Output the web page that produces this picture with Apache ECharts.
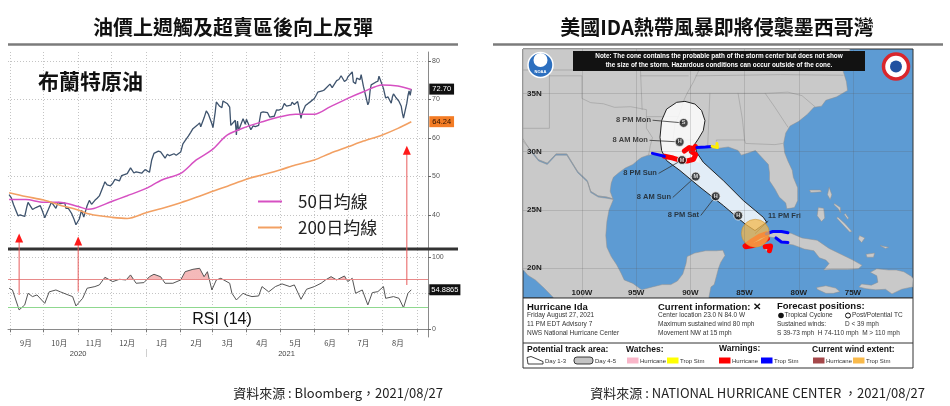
<!DOCTYPE html>
<html>
<head>
<meta charset="utf-8">
<script src="https://cdn.jsdelivr.net/npm/echarts@6.0.0/dist/echarts.min.js"></script>
<style>
html, body { margin: 0; padding: 0; background: #fff; }
#main { width: 950px; height: 406px; }
</style>
</head>
<body>
<div id="main"></div>
<script>
// ---- left panel: Brent crude ----
const priceDates = [
  '2020-08-31','2020-09-02','2020-09-04','2020-09-08','2020-09-10','2020-09-14','2020-09-16','2020-09-17','2020-09-21','2020-09-24','2020-09-28','2020-09-30',
  '2020-10-02','2020-10-05','2020-10-08','2020-10-12','2020-10-14','2020-10-16','2020-10-20','2020-10-21','2020-10-23','2020-10-26','2020-10-28','2020-10-30',
  '2020-11-02','2020-11-04','2020-11-06','2020-11-09','2020-11-11','2020-11-13','2020-11-16','2020-11-18','2020-11-20','2020-11-24','2020-11-25','2020-11-27','2020-11-30',
  '2020-12-02','2020-12-04','2020-12-08','2020-12-10','2020-12-11','2020-12-15','2020-12-18','2020-12-21','2020-12-23','2020-12-28','2020-12-31',
  '2021-01-04','2021-01-06','2021-01-08','2021-01-12','2021-01-14','2021-01-18','2021-01-20','2021-01-22','2021-01-26','2021-01-28',
  '2021-02-01','2021-02-03','2021-02-05','2021-02-08','2021-02-10','2021-02-12','2021-02-16','2021-02-18','2021-02-19','2021-02-22','2021-02-24','2021-02-26',
  '2021-03-01','2021-03-02','2021-03-04','2021-03-05','2021-03-08','2021-03-10','2021-03-11','2021-03-15','2021-03-17','2021-03-18','2021-03-22','2021-03-23','2021-03-24','2021-03-25','2021-03-29','2021-03-31',
  '2021-04-01','2021-04-05','2021-04-07','2021-04-09','2021-04-12','2021-04-14','2021-04-16','2021-04-20','2021-04-22','2021-04-26','2021-04-28','2021-04-30',
  '2021-05-03','2021-05-05','2021-05-07','2021-05-11','2021-05-12','2021-05-14','2021-05-17','2021-05-19','2021-05-20','2021-05-21','2021-05-24','2021-05-26','2021-05-28',
  '2021-06-01','2021-06-03','2021-06-04','2021-06-08','2021-06-10','2021-06-11','2021-06-15','2021-06-17','2021-06-18','2021-06-21','2021-06-23','2021-06-25','2021-06-28','2021-06-30',
  '2021-07-01','2021-07-02','2021-07-05','2021-07-06','2021-07-08','2021-07-09','2021-07-12','2021-07-13','2021-07-15','2021-07-16','2021-07-19','2021-07-20','2021-07-21','2021-07-22','2021-07-26','2021-07-28','2021-07-29','2021-07-30',
  '2021-08-02','2021-08-03','2021-08-04','2021-08-06','2021-08-09','2021-08-10','2021-08-11','2021-08-13','2021-08-16','2021-08-17','2021-08-18','2021-08-19','2021-08-20','2021-08-23','2021-08-24','2021-08-25','2021-08-26','2021-08-27'
];
const priceClose = [
  45.28, 44.43, 42.66, 39.78, 40.06, 39.61, 42.22, 43.30, 41.44, 41.94, 42.43, 40.95,
  39.27, 41.29, 43.34, 41.72, 43.32, 42.93, 43.16, 41.73, 41.77, 40.46, 39.12, 37.46,
  38.97, 41.23, 39.45, 42.40, 43.80, 42.78, 43.82, 44.34, 44.96, 47.86, 48.61, 47.80, 47.59,
  48.25, 49.25, 48.84, 50.25, 49.97, 50.76, 52.26, 50.91, 51.20, 50.86, 51.80,
  51.09, 54.30, 55.99, 56.58, 56.42, 54.75, 55.79, 55.41, 55.91, 55.53,
  56.35, 58.46, 59.34, 60.56, 61.47, 62.43, 63.35, 63.93, 62.91, 65.24, 67.04, 66.13,
  63.69, 62.70, 66.74, 69.36, 68.24, 67.90, 69.63, 68.88, 68.00, 63.28, 64.62, 60.79, 64.41, 61.95, 64.98, 63.54,
  64.86, 62.15, 63.16, 62.95, 63.28, 66.58, 66.77, 66.57, 65.40, 65.65, 67.27, 67.25,
  67.56, 68.96, 68.28, 68.55, 69.32, 68.71, 69.46, 66.66, 65.11, 66.44, 68.46, 68.87, 69.32,
  70.25, 71.31, 71.89, 72.22, 72.52, 72.69, 73.99, 73.08, 73.51, 74.90, 75.19, 76.18, 74.68, 75.13,
  75.84, 76.17, 77.16, 74.53, 74.12, 75.55, 75.16, 76.49, 73.47, 73.59, 68.62, 69.35, 72.23, 73.79, 74.50, 74.74, 76.05, 76.33,
  72.89, 72.41, 70.38, 70.70, 69.04, 70.63, 71.44, 70.59, 69.51, 69.03, 68.23, 66.45, 65.18, 69.05, 70.98, 72.25, 71.07, 72.70
];
const maDates = ['2020-08-31','2020-09-15','2020-10-01','2020-10-15','2020-11-01','2020-11-10','2020-11-15','2020-12-01','2020-12-15',
  '2021-01-01','2021-01-15','2021-02-01','2021-02-15','2021-03-01','2021-03-15','2021-04-01','2021-04-15','2021-05-01','2021-05-15',
  '2021-06-01','2021-06-15','2021-07-01','2021-07-15','2021-08-01','2021-08-15','2021-08-27'];
const ma50 = [44.0, 44.0, 43.3, 43.3, 42.2, 41.5, 41.7, 43.5, 45.0, 46.9, 49.1, 50.8, 54.3, 56.9, 60.8, 62.9, 64.2, 65.5, 66.2,
  66.2, 68.1, 70.3, 72.0, 73.8, 73.5, 72.6];
const ma200 = [45.8, 44.8, 43.9, 42.6, 41.3, 40.3, 40.0, 39.4, 39.1, 40.6, 41.7, 43.2, 44.6, 46.1, 47.5, 49.3, 50.4, 51.7, 53.0,
  54.3, 56.0, 57.7, 59.2, 60.8, 62.5, 64.24];
const rsiDates = ['2020-08-31','2020-09-03','2020-09-08','2020-09-09','2020-09-14','2020-09-17','2020-09-21','2020-09-25','2020-10-02','2020-10-06',
  '2020-10-12','2020-10-16','2020-10-23','2020-10-27','2020-10-30','2020-11-05','2020-11-09','2020-11-16','2020-11-20','2020-11-25',
  '2020-12-02','2020-12-08','2020-12-14','2020-12-18','2020-12-23','2020-12-30','2021-01-04','2021-01-08','2021-01-14','2021-01-18',
  '2021-01-25','2021-02-01','2021-02-05','2021-02-12','2021-02-18','2021-02-22','2021-02-25','2021-03-01','2021-03-05','2021-03-09',
  '2021-03-17','2021-03-19','2021-03-23','2021-03-29','2021-04-01','2021-04-06','2021-04-12','2021-04-15','2021-04-21','2021-04-27',
  '2021-05-03','2021-05-10','2021-05-14','2021-05-20','2021-05-25','2021-06-01','2021-06-07','2021-06-11','2021-06-16','2021-06-21',
  '2021-06-28','2021-07-01','2021-07-05','2021-07-08','2021-07-14','2021-07-19','2021-07-23','2021-07-28','2021-08-02','2021-08-04',
  '2021-08-11','2021-08-16','2021-08-20','2021-08-24','2021-08-25','2021-08-27'];
const rsiValues = [57, 54.6, 31.5, 26.9, 33.8, 50, 45.4, 47.7, 36, 52,
  54.6, 52, 47.7, 45.4, 32.4, 43, 57, 59.3, 61.6, 72.2,
  66.2, 69.4, 68.5, 75.5, 63.9, 64.8, 73.1, 76.4, 73, 63.9,
  63.9, 68.5, 80, 83.3, 84.7, 73, 80, 54.6, 68.5, 70.8,
  63.9, 50, 40.7, 50, 47.7, 45.4, 46.3, 59.3, 52, 59.3,
  63, 59.3, 61.6, 41.7, 55.6, 59.3, 63.9, 68.5, 73.1, 68.5,
  74, 66.2, 70.8, 50, 54.6, 33.8, 50.9, 52.3, 59.3, 43,
  45.4, 43, 30, 50, 52, 54.8865];
const rsiLevels = [70, 30];
const monthStarts = ['2020-09-01','2020-10-01','2020-11-01','2020-12-01','2021-01-01','2021-02-01','2021-03-01',
  '2021-04-01','2021-05-01','2021-06-01','2021-07-01','2021-08-01','2021-09-01'];
const monthMids = ['2020-09-15','2020-10-15','2020-11-15','2020-12-15','2021-01-15','2021-02-15','2021-03-15',
  '2021-04-15','2021-05-15','2021-06-15','2021-07-15','2021-08-15'];
const monthLabels = ['9月','10月','11月','12月','1月','2月','3月','4月','5月','6月','7月','8月'];
const yearMids = ['2020-11-01','2021-05-07'];
const yearLabels = ['2020','2021'];
const yearBreaks = ['2021-01-01'];
const priceTicks = [40, 50, 60, 70, 80];
const rsiTicks = [0, 50, 100];
const rsiTickLabels = [0, 100];
const arrowDates = ['2020-09-09','2020-11-01','2021-08-23'];
const arrowTop = [35.2, 34.4, 58.0];
const arrowBottom = [47.6, 52.3, 61.5];

// ---- right panel: Hurricane Ida map (lon, lat) ----
const lonTicks = [-100, -95, -90, -85, -80, -75];
const latTicks = [20, 25, 30, 35];
const usLand = [[-105.44,38.8],[-75.3,38.8],[-75.2,38.0],[-75.6,37.4],[-75.9,36.9],[-75.6,36.0],[-75.5,35.25],[-76.5,34.7],[-77.5,34.4],[-77.9,33.9],
  [-78.6,33.8],[-79.2,33.2],[-80.0,32.6],[-80.8,32.2],[-81.2,31.6],[-81.4,30.7],[-81.3,29.9],[-81.0,29.2],[-80.6,28.4],[-80.5,27.8],
  [-80.1,26.9],[-80.1,25.8],[-80.4,25.2],[-81.1,25.1],[-81.2,25.6],[-81.8,26.1],[-82.2,26.8],[-82.7,27.5],[-82.7,28.2],[-82.8,28.9],
  [-83.4,29.5],[-84.0,30.1],[-84.6,29.9],[-85.3,29.7],[-85.6,30.1],[-86.5,30.4],[-87.3,30.3],[-88.0,30.3],[-88.6,30.35],[-89.3,30.3],
  [-89.6,30.1],[-89.4,29.7],[-89.2,29.3],[-89.1,29.0],[-89.4,29.1],[-89.9,29.3],[-90.3,29.1],[-90.8,29.1],[-91.3,29.3],[-91.8,29.5],
  [-92.3,29.55],[-93.2,29.75],[-93.9,29.7],[-94.5,29.5],[-94.8,29.3],[-95.3,28.9],[-96.0,28.6],[-96.6,28.2],[-97.1,27.8],[-97.3,27.3],
  [-97.4,26.6],[-97.15,25.95],[-97.7,26.1],[-98.5,26.2],[-99.2,26.6],[-99.5,27.5],[-100.4,28.3],[-101.4,29.8],[-102.4,29.8],[-103.2,29.0],
  [-104.0,29.3],[-104.7,30.1],[-105.44,30.9]];
const mexicoLand = [[-105.44,31.1],[-104.7,30.0],[-104.0,29.2],[-103.2,28.9],[-102.4,29.7],[-101.4,29.7],[-100.4,28.2],[-99.5,27.4],[-99.2,26.5],
  [-98.5,26.1],[-97.7,26.0],[-97.1,25.9],[-97.5,25.0],[-97.7,24.0],[-97.8,22.8],[-97.7,21.8],[-97.3,21.0],[-96.8,20.3],[-96.4,19.6],[-96.1,19.0],
  [-95.3,18.7],[-94.5,18.15],[-93.5,18.4],[-92.6,18.6],[-91.8,18.6],[-91.2,18.9],[-90.7,19.5],[-90.4,20.4],[-90.3,21.0],[-89.6,21.3],
  [-88.6,21.5],[-87.6,21.5],[-87.0,21.55],[-86.8,21.1],[-87.2,20.5],[-87.4,20.0],[-87.6,19.3],[-87.8,18.6],[-88.1,18.4],[-88.3,17.45],
  [-102.6,17.45],[-103.5,18.3],[-104.3,19.0],[-105.0,19.4],[-105.44,19.9]];
const islandShapes = [
  [[-84.95,21.85],[-84.4,22.4],[-83.4,22.9],[-82.4,23.15],[-81.6,23.15],[-80.7,23.0],[-79.7,22.6],[-78.3,22.4],[-77.2,21.7],[-76.0,21.15],
   [-75.0,20.7],[-74.15,20.25],[-74.5,19.95],[-75.5,19.9],[-77.0,19.9],[-77.7,19.85],[-77.2,20.4],[-77.5,20.7],[-78.1,20.9],[-78.6,21.5],
   [-79.5,21.65],[-80.5,22.0],[-81.2,22.1],[-81.7,22.3],[-82.1,22.6],[-82.8,22.7],[-83.4,22.2],[-84.2,21.95]],
  [[-83.1,21.9],[-82.6,21.95],[-82.55,21.55],[-82.9,21.45],[-83.15,21.6]],
  [[-78.35,18.35],[-77.5,18.5],[-76.6,18.3],[-76.2,18.0],[-76.8,17.85],[-77.5,17.85],[-78.3,18.2]],
  [[-74.45,18.4],[-73.8,18.25],[-72.9,18.15],[-72.0,18.2],[-71.4,17.8],[-70.5,18.2],[-69.5,18.4],[-69.46,19.1],[-69.6,19.3],[-70.3,19.7],
   [-71.0,19.85],[-71.7,19.85],[-72.8,19.95],[-73.4,19.65],[-72.8,19.35],[-72.7,18.8],[-73.3,18.55],[-74.2,18.65]],
  [[-79.0,26.7],[-78.0,26.7],[-77.9,26.55],[-78.9,26.5]],
  [[-77.2,26.95],[-76.95,26.3],[-77.1,25.9],[-77.35,26.3]],
  [[-78.2,25.2],[-77.7,25.15],[-77.6,24.3],[-77.9,24.0],[-78.3,24.5]],
  [[-76.7,25.55],[-76.15,25.2],[-76.15,24.75],[-76.35,25.1],[-76.75,25.45]],
  [[-76.5,24.3],[-75.8,23.6],[-75.3,23.1],[-75.1,23.15],[-75.7,23.8],[-76.4,24.4]],
  [[-75.7,24.7],[-75.4,24.3],[-75.5,24.2],[-75.8,24.6]],
  [[-73.8,21.2],[-73.0,21.3],[-73.1,20.95],[-73.7,20.95]],
  [[-74.4,22.8],[-73.9,22.6],[-74.2,22.2],[-74.5,22.5]],
  [[-72.5,21.95],[-71.7,21.8],[-72.0,21.7]]
];
const borderLines = [
  [[-97.15,25.95],[-97.7,26.1],[-98.5,26.2],[-99.2,26.6],[-99.5,27.5],[-100.4,28.3],[-101.4,29.8],[-102.4,29.8],[-103.2,29.0],[-104.0,29.3],[-104.7,30.1],[-105.44,30.9]],
  [[-93.85,29.7],[-93.7,30.5],[-93.5,31.2],[-94.05,32.0],[-94.05,33.6],[-95.5,33.85],[-97.0,33.8],[-98.0,34.1],[-99.2,34.2],[-100.0,34.56],[-100.0,36.5],[-103.0,36.5],[-103.0,32.0],[-105.44,32.0]],
  [[-94.05,33.0],[-91.15,33.0]],
  [[-94.45,33.6],[-94.6,37.0],[-103.0,37.0],[-105.44,37.0]],
  [[-103.0,36.5],[-103.0,37.0]],
  [[-89.75,30.2],[-89.75,31.0],[-91.6,31.0],[-91.4,32.5],[-91.1,33.0],[-90.6,34.4],[-90.3,35.0],[-89.7,36.0],[-89.2,37.0]],
  [[-94.6,36.5],[-90.2,36.5]],
  [[-90.3,35.0],[-84.3,35.0],[-83.1,35.0],[-81.0,35.1],[-79.7,34.8],[-78.5,33.85]],
  [[-83.1,35.0],[-82.2,33.8],[-81.0,32.1]],
  [[-89.5,36.5],[-81.7,36.6],[-75.9,36.55]],
  [[-88.4,30.4],[-88.2,35.0]],
  [[-85.0,31.0],[-85.2,32.8],[-85.6,35.0]],
  [[-87.6,30.9],[-87.6,31.0],[-85.0,31.0],[-84.9,30.7],[-82.2,30.6],[-81.5,30.7]]
];
const coneShape = [[-84.04,23.23],[-84.96,23.80],[-86.96,25.38],[-89.11,26.95],[-90.96,28.38],[-92.19,29.23],[-92.65,30.09],[-92.80,31.23],
  [-92.65,32.66],[-92.19,33.65],[-91.26,34.23],[-90.50,34.31],[-89.58,34.08],[-88.96,33.52],[-88.65,32.66],[-88.81,31.80],[-89.27,31.08],
  [-89.58,30.66],[-89.42,29.94],[-88.81,29.09],[-86.96,27.52],[-85.12,25.81],[-83.27,24.37],[-82.96,23.95]];
const warnPaths = [
  [[-92.4,29.6],[-91.6,29.45],[-90.9,29.25],[-90.3,29.2],[-89.7,29.35],[-89.5,29.75],[-89.9,30.0]],
  [[-90.55,30.05],[-90.1,30.35],[-89.7,30.25],[-89.55,30.45]],
  [[-93.5,29.85],[-92.4,29.6]],
  [[-89.4,30.35],[-88.6,30.4],[-88.0,30.45]],
  [[-88.0,30.45],[-87.5,30.35],[-87.55,30.7]],
  [[-84.95,21.9],[-84.3,22.35],[-83.6,22.75],[-83.0,22.95]],
  [[-84.9,21.85],[-84.2,21.95],[-83.5,22.2],[-82.9,22.55]],
  [[-83.1,21.85],[-82.6,21.9],[-82.7,21.5]],
  [[-83.0,22.95],[-82.4,23.15],[-81.6,23.15],[-81.0,23.05]],
  [[-82.1,22.6],[-81.6,22.25],[-81.0,22.2]]
];
const warnColors = ['#ff0000','#ff0000','#0000ff','#0000ff','#ffee00','#ff0000','#ff0000','#ff0000','#0000ff','#0000ff'];
const stormNow = [-84.0, 23.0];
const trackLon = [-85.58, -87.67, -89.51, -90.77, -90.99, -90.62];
const trackLat = [24.52, 26.17, 27.86, 29.28, 30.83, 32.46];
const trackCat = ['H', 'H', 'M', 'M', 'H', 'S'];
const labelText = ['8 PM Sat', '8 AM Sun', '8 PM Sun', '8 AM Mon', '8 PM Mon', '11 PM Fri'];
const labelLon = [-89.02, -91.6, -92.9, -93.73, -93.45, -82.84];
const labelLat = [24.55, 26.09, 28.15, 30.97, 32.69, 24.03];
const labelTarget = [1, 2, 3, 4, 5, -1];

const CJK = '"Noto Sans CJK TC", "Noto Sans CJK SC", sans-serif';
const LAT = '"Liberation Sans", Arial, sans-serif';
const t = s => new Date(s + 'T00:00:00Z').getTime();
const xMin = t('2020-08-30'), xMax = t('2021-09-11');
const dotted = { type: [1, 2], color: '#c4c4c4', width: 1 };
const startsMs = monthStarts.map(t), midsMs = monthMids.map(t), yearMidsMs = yearMids.map(t);
const LAND = { fill: '#c9c9c9', stroke: '#8f8f8f', lineWidth: 0.5 };

// filled map shapes (islands, cone) as polygons through the lon-lat axes
function mapPolygons(shapes, style) {
  return {
    type: 'custom', coordinateSystem: 'cartesian2d', xAxisIndex: 3, yAxisIndex: 2, silent: true,
    data: shapes.map((s, i) => [s[0][0], s[0][1], i]),
    renderItem: function (params, api) {
      const pts = shapes[api.value(2)].map(function (p) { return api.coord(p); });
      return { type: 'polygon', shape: { points: pts }, style: style };
    }
  };
}
// open map lines (borders, warnings, leaders)
function mapLines(paths, colorOf, width, z) {
  return {
    type: 'lines', coordinateSystem: 'cartesian2d', xAxisIndex: 3, yAxisIndex: 2, polyline: true, silent: true, z: z || 2,
    data: paths.map((p, i) => ({ coords: p, lineStyle: { color: colorOf(i), width: typeof width === 'function' ? width(i) : width } })),
    lineStyle: { opacity: 1, curveness: 0, cap: 'round', join: 'round' }
  };
}

const leaderPaths = labelText.map((s, i) => {
  const to = labelTarget[i] < 0 ? stormNow : [trackLon[labelTarget[i]], trackLat[labelTarget[i]]];
  return [[labelLon[i], labelLat[i]], to];
});

const chart = echarts.init(document.getElementById('main'));

const option = {
  animation: false,
  backgroundColor: '#fff',
  grid: [
    { left: 8, top: 52, width: 420, height: 196, outerBoundsMode: 'none' },
    { left: 8, top: 250, width: 420, height: 87, outerBoundsMode: 'none' },
    { left: 523, top: 49, width: 390, height: 249, show: true, backgroundColor: '#5d9bd3', borderColor: '#333', borderWidth: 1, outerBoundsMode: 'none' }
  ],
  legend: {
    data: ['50日均線', '200日均線'], orient: 'vertical', left: 258, top: 193, padding: 0, icon: 'rect',
    itemWidth: 24, itemHeight: 2, itemGap: 9, selectedMode: false,
    textStyle: { fontSize: 17, color: '#222', fontFamily: CJK, padding: [0, 0, 0, 11] }
  },
  xAxis: [
    { type: 'value', gridIndex: 0, min: xMin, max: xMax, axisLine: { show: false },
      axisTick: { show: false, customValues: startsMs }, axisLabel: { show: false, customValues: startsMs },
      splitLine: { show: true, lineStyle: dotted } },
    { type: 'value', gridIndex: 1, position: 'bottom', min: xMin, max: xMax,
      axisLine: { show: true, lineStyle: { color: '#8a8a8a', width: 1 } },
      axisTick: { show: true, length: 3, customValues: startsMs, lineStyle: { color: '#777' } },
      axisLabel: { customValues: midsMs, fontSize: 7.5, color: '#444', margin: 2, fontFamily: CJK,
        formatter: v => monthLabels[midsMs.indexOf(v)] || '' },
      splitLine: { show: true, lineStyle: dotted } },
    { type: 'value', gridIndex: 1, position: 'bottom', min: xMin, max: xMax, offset: 12, axisLine: { show: false },
      axisTick: { show: true, length: 8, customValues: yearBreaks.map(t), lineStyle: { color: '#cfcfcf' } },
      axisLabel: { customValues: yearMidsMs, fontSize: 7.5, color: '#444', margin: 1, fontFamily: LAT,
        formatter: v => yearLabels[yearMidsMs.indexOf(v)] || '' },
      splitLine: { show: false } },
    { type: 'value', gridIndex: 2, position: 'bottom', z: 20, min: -105.44, max: -69.46, axisLine: { show: false },
      axisTick: { show: false, customValues: lonTicks },
      splitLine: { show: true, lineStyle: { color: 'rgba(90,90,90,0.35)', width: 0.6 } },
      axisLabel: { inside: true, customValues: lonTicks, formatter: v => (-v) + 'W', fontSize: 8, fontWeight: 'bold',
        color: '#1e1e1e', margin: 1, fontFamily: LAT } }
  ],
  yAxis: [
    { type: 'value', gridIndex: 0, position: 'right', min: 31.43, max: 82.34,
      axisLine: { show: true, lineStyle: { color: '#8a8a8a' } },
      axisTick: { show: true, length: 3, customValues: priceTicks, lineStyle: { color: '#666' } },
      axisLabel: { customValues: priceTicks, fontSize: 7, color: '#555', margin: 4, fontFamily: LAT },
      splitLine: { show: true, lineStyle: dotted } },
    { type: 'value', gridIndex: 1, position: 'right', min: -10.7, max: 110.1,
      axisLine: { show: true, lineStyle: { color: '#8a8a8a' } },
      axisTick: { show: true, length: 3, customValues: rsiTicks, lineStyle: { color: '#666' } },
      axisLabel: { customValues: rsiTickLabels, fontSize: 7, color: '#555', margin: 4, fontFamily: LAT },
      splitLine: { show: true, lineStyle: dotted } },
    { type: 'value', gridIndex: 2, position: 'left', z: 20, min: 17.45, max: 38.8, axisLine: { show: false },
      axisTick: { show: false, customValues: latTicks },
      splitLine: { show: true, lineStyle: { color: 'rgba(90,90,90,0.35)', width: 0.6 } },
      axisLabel: { inside: true, customValues: latTicks, formatter: v => v + 'N', fontSize: 8, fontWeight: 'bold',
        color: '#1e1e1e', margin: 4, fontFamily: LAT } }
  ],
  series: [
    { name: '布蘭特原油', type: 'line', xAxisIndex: 0, yAxisIndex: 0, showSymbol: false, silent: true,
      data: priceDates.map((d, i) => [t(d), priceClose[i]]), color: '#3e536d',
      lineStyle: { width: 1.3, color: '#3e536d' },
      endLabel: { show: true, distance: 18, formatter: p => p.value[1].toFixed(2), backgroundColor: '#111',
        color: '#fff', fontSize: 7.5, padding: [2, 3, 1, 3], fontFamily: LAT } },
    { name: '50日均線', type: 'line', xAxisIndex: 0, yAxisIndex: 0, showSymbol: false, silent: true, smooth: 0.3,
      data: maDates.map((d, i) => [t(d), ma50[i]]), color: '#d650c2', lineStyle: { width: 1.5 } },
    { name: '200日均線', type: 'line', xAxisIndex: 0, yAxisIndex: 0, showSymbol: false, silent: true, smooth: 0.3,
      data: maDates.map((d, i) => [t(d), ma200[i]]), color: '#f2a063', lineStyle: { width: 1.6 },
      endLabel: { show: true, distance: 18, formatter: p => p.value[1].toFixed(2), backgroundColor: '#f37c25',
        color: '#2a1200', fontSize: 7.5, padding: [2, 3, 1, 3], fontFamily: LAT } },
    { name: 'RSI', type: 'line', xAxisIndex: 1, yAxisIndex: 1, showSymbol: false, silent: true, z: 4,
      data: rsiDates.map((d, i) => [t(d), rsiValues[i]]), color: '#555',
      lineStyle: { width: 1, color: '#555' },
      endLabel: { show: true, distance: 18, formatter: p => String(p.value[1]), backgroundColor: '#111',
        color: '#fff', fontSize: 7.5, padding: [2, 2, 1, 2], fontFamily: LAT },
      markLine: { silent: true, symbol: 'none', label: { show: false },
        data: rsiLevels.map((v, i) => ({ yAxis: v, lineStyle: { type: 'solid', width: 1.2, color: i === 0 ? '#e88a8a' : '#8fd88f' } })) } },
    { name: 'RSI area', type: 'line', xAxisIndex: 1, yAxisIndex: 1, showSymbol: false, silent: true, z: 3,
      data: rsiDates.map((d, i) => [t(d), rsiValues[i]]), lineStyle: { width: 0, opacity: 0 },
      areaStyle: { opacity: 0 } },
    // map layers
    mapPolygons(islandShapes, LAND),
    mapLines(borderLines, () => '#9a9a9a', 0.6, 2),
    mapPolygons([coneShape], { fill: 'rgba(255,255,255,0.82)', stroke: '#222', lineWidth: 1 }),
    mapLines(warnPaths, i => warnColors[i], i => (warnColors[i] === '#ff0000' ? 5 : 3), 3),
    { type: 'scatter', xAxisIndex: 3, yAxisIndex: 2, silent: true, symbolSize: 28, data: [stormNow], z: 4,
      itemStyle: { color: 'rgba(243,184,78,0.95)', borderColor: '#c48b2b', borderWidth: 0.6 } },
    mapLines(leaderPaths, () => '#333', 0.8, 4),
    { type: 'scatter', xAxisIndex: 3, yAxisIndex: 2, silent: true, symbolSize: 9, z: 5,
      data: trackLon.map((x, i) => [x, trackLat[i]]),
      itemStyle: { color: '#1a1a1a', borderColor: '#f4f4f4', borderWidth: 1 },
      label: { show: true, position: 'inside', formatter: p => trackCat[p.dataIndex], fontSize: 5.5, fontWeight: 'bold',
        color: '#fff', fontFamily: LAT } },
    { type: 'scatter', xAxisIndex: 3, yAxisIndex: 2, silent: true, symbolSize: 0, z: 5,
      data: labelText.map((s, i) => ({
        value: [labelLon[i], labelLat[i]],
        label: labelTarget[i] < 0 ? { position: 'right', offset: [-2, -5] } : { position: 'left' }
      })),
      label: { show: true, distance: 2, formatter: p => labelText[p.dataIndex], fontSize: 7.5, fontWeight: 'bold',
        color: '#1a1a1a', fontFamily: LAT } },
    { type: 'scatter', xAxisIndex: 3, yAxisIndex: 2, silent: true, symbolSize: 1, data: [stormNow], z: 6,
      itemStyle: { opacity: 0 },
      label: { show: true, position: 'inside', formatter: '✕', fontSize: 9, fontWeight: 'bold', color: '#111', fontFamily: 'DejaVu Sans' } }
  ]
};

chart.setOption(option);

// pink fill above the 70 line: a gradient that switches at the pixel row of RSI 70
const y70 = chart.convertToPixel({ xAxisIndex: 1, yAxisIndex: 1 }, [xMin, rsiLevels[0]])[1];
chart.setOption({ series: [{}, {}, {}, {}, { areaStyle: { opacity: 1, origin: 'start',
  color: new echarts.graphic.LinearGradient(0, y70 - 1, 0, y70, [
    { offset: 0, color: 'rgba(236,128,128,0.55)' }, { offset: 0.999, color: 'rgba(236,128,128,0.55)' },
    { offset: 1, color: 'rgba(255,255,255,0)' }], true) } }] });

// ---- decorations ----
const G = [];
function txt(x, y, s, size, color, opts) {
  opts = opts || {};
  const align = opts.align || 'left';
  G.push({ type: 'text', x: x, y: y, z: 60, silent: true, style: {
    text: s, font: (opts.weight || 'normal') + ' ' + size + 'px ' + (opts.family || CJK), fill: color,
    textAlign: align, align: align, textVerticalAlign: 'middle', verticalAlign: 'middle' } });
}
function seg(x1, y1, x2, y2, stroke, w) {
  G.push({ type: 'line', z: 60, silent: true, shape: { x1: x1, y1: y1, x2: x2, y2: y2 }, style: { stroke: stroke, lineWidth: w } });
}
function box(x, y, w, h, fill, stroke, lw) {
  G.push({ type: 'rect', z: 58, silent: true, shape: { x: x, y: y, width: w, height: h },
    style: { fill: fill, stroke: stroke || null, lineWidth: lw || 0 } });
}

// mainland (US and Mexico) projected through the map axes
[usLand, mexicoLand].forEach(shape => {
  G.push({ type: 'polygon', z: 1, silent: true,
    shape: { points: shape.map(p => chart.convertToPixel({ xAxisIndex: 3, yAxisIndex: 2 }, p)) }, style: LAND });
});

txt(233, 27, '油價上週觸及超賣區後向上反彈', 20, '#111', { align: 'center', weight: 'bold' });
txt(717, 27, '美國IDA熱帶風暴即將侵襲墨西哥灣', 20, '#111', { align: 'center', weight: 'bold' });
seg(8, 44.5, 458, 44.5, '#7b7b7b', 2.5);
seg(493, 44.5, 943, 44.5, '#7b7b7b', 2.5);
seg(8, 249, 458, 249, '#333', 3);
txt(38, 81, '布蘭特原油', 21, '#111', { weight: 'bold' });
txt(222, 319.5, 'RSI (14)', 16, '#111', { align: 'center', family: LAT });
txt(443, 393, '資料來源 : Bloomberg，2021/08/27', 13, '#222', { align: 'right' });
txt(925, 393, '資料來源 : NATIONAL HURRICANE CENTER ，2021/08/27', 13, '#222', { align: 'right' });

// red arrows (from data positions)
arrowDates.forEach((d, i) => {
  const top = chart.convertToPixel({ xAxisIndex: 0, yAxisIndex: 0 }, [t(d), arrowTop[i]]);
  const bot = chart.convertToPixel({ xAxisIndex: 1, yAxisIndex: 1 }, [t(d), arrowBottom[i]]);
  seg(top[0], bot[1], top[0], top[1] + 7, '#e85c5c', 1);
  G.push({ type: 'polygon', z: 61, silent: true,
    shape: { points: [[top[0], top[1]], [top[0] - 4, top[1] + 9], [top[0] + 4, top[1] + 9]] }, style: { fill: '#ff1a1a' } });
});

// map header: note + logos
box(573, 51, 292, 20, '#121212');
txt(719, 56.5, 'Note: The cone contains the probable path of the storm center but does not show', 6.4, '#fff',
  { align: 'center', weight: 'bold', family: LAT });
txt(719, 65.5, 'the size of the storm. Hazardous conditions can occur outside of the cone.', 6.4, '#fff',
  { align: 'center', weight: 'bold', family: LAT });
G.push({ type: 'circle', z: 59, silent: true, shape: { cx: 540.5, cy: 65, r: 12.5 }, style: { fill: '#2c6fbf', stroke: '#fff', lineWidth: 1.5 } });
G.push({ type: 'circle', z: 59, silent: true, shape: { cx: 540.5, cy: 60, r: 7 }, style: { fill: '#fff' } });
txt(540.5, 72, 'NOAA', 4, '#fff', { align: 'center', weight: 'bold', family: LAT });
G.push({ type: 'circle', z: 59, silent: true, shape: { cx: 896, cy: 66.5, r: 12.5 }, style: { fill: '#fff', stroke: '#d9262c', lineWidth: 3.5 } });
G.push({ type: 'circle', z: 59, silent: true, shape: { cx: 896, cy: 66.5, r: 6 }, style: { fill: '#2151a0' } });

// map legend box
box(523, 298, 390, 70, '#fff', '#333', 1);
seg(523, 343, 913, 343, '#333', 1);
txt(527, 307, 'Hurricane Ida', 9.5, '#111', { weight: 'bold', family: LAT });
txt(527, 315.5, 'Friday August 27, 2021', 6.5, '#333', { family: LAT });
txt(527, 324.5, '11 PM EDT Advisory 7', 6.5, '#333', { family: LAT });
txt(527, 333, 'NWS National Hurricane Center', 6.5, '#333', { family: LAT });
txt(658, 307, 'Current information: ✕', 9.5, '#111', { weight: 'bold', family: LAT });
txt(658, 315.5, 'Center location 23.0 N 84.0 W', 6.5, '#333', { family: LAT });
txt(658, 324.5, 'Maximum sustained wind 80 mph', 6.5, '#333', { family: LAT });
txt(658, 333, 'Movement NW at 15 mph', 6.5, '#333', { family: LAT });
txt(777, 306, 'Forecast positions:', 9.5, '#111', { weight: 'bold', family: LAT });
G.push({ type: 'circle', z: 60, silent: true, shape: { cx: 781, cy: 315.5, r: 2.8 }, style: { fill: '#111' } });
txt(784.5, 315.5, 'Tropical Cyclone', 6.5, '#333', { family: LAT });
G.push({ type: 'circle', z: 60, silent: true, shape: { cx: 848, cy: 315.5, r: 2.5 }, style: { fill: '#fff', stroke: '#111', lineWidth: 1 } });
txt(852, 315.5, 'Post/Potential TC', 6.5, '#333', { family: LAT });
txt(777, 324.5, 'Sustained winds:', 6.5, '#333', { family: LAT });
txt(845, 324.5, 'D < 39 mph', 6.5, '#333', { family: LAT });
txt(777, 333, 'S 39-73 mph  H 74-110 mph  M > 110 mph', 6.5, '#333', { family: LAT });

txt(527, 350, 'Potential track area:', 8.5, '#111', { weight: 'bold', family: LAT });
txt(626, 350, 'Watches:', 8.5, '#111', { weight: 'bold', family: LAT });
txt(719, 349, 'Warnings:', 8.5, '#111', { weight: 'bold', family: LAT });
txt(812, 350, 'Current wind extent:', 8.5, '#111', { weight: 'bold', family: LAT });
G.push({ type: 'polygon', z: 60, silent: true, shape: { points: [[527, 357.5], [531, 356.5], [543, 361.5], [543, 364], [528, 364]] },
  style: { fill: '#fff', stroke: '#111', lineWidth: 0.8 } });
txt(545, 361, 'Day 1-3', 6, '#333', { family: LAT });
G.push({ type: 'rect', z: 60, silent: true, shape: { x: 574, y: 357, width: 19, height: 7, r: 3 },
  style: { fill: '#c4c4c4', stroke: '#111', lineWidth: 0.8 } });
txt(595, 361, 'Day 4-5', 6, '#333', { family: LAT });
const swatches = [[627, '#f9b6c9', 'Hurricane'], [667, '#ffff00', 'Trop Stm'], [719, '#ff0000', 'Hurricane'], [761, '#0000ff', 'Trop Stm'],
  [813, '#a5484a', 'Hurricane'], [853, '#f8b94a', 'Trop Stm']];
swatches.forEach(s => {
  box(s[0], 357.5, 11.5, 6, s[1]);
  txt(s[0] + 13, 361, s[2], 6, '#333', { family: LAT });
});

chart.setOption({ graphic: { elements: G } });
</script>
</body>
</html>
